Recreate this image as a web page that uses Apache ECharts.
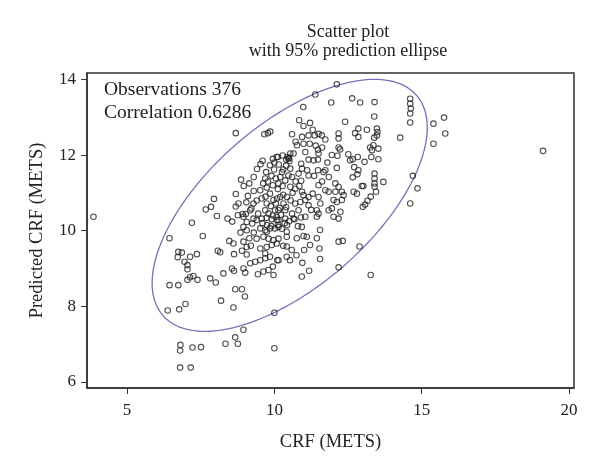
<!DOCTYPE html>
<html>
<head>
<meta charset="utf-8">
<script src="https://cdn.jsdelivr.net/npm/echarts@6/dist/echarts.min.js"></script>
<style>
  html, body { margin: 0; padding: 0; background: #fff; }
  #main { width: 600px; height: 472px; }
</style>
</head>
<body>
<div id="main"></div>
<script>
const points = [
  [3.86,10.37],[8.69,12.58],[9.66,12.55],[9.78,12.58],[9.86,12.62],[9.95,11.90],[10.08,11.95],[9.53,11.76],[9.41,11.63],[9.30,11.42],
  [9.99,11.62],[8.87,11.35],[8.96,11.18],[8.69,10.97],[9.10,10.92],[7.95,10.84],[7.67,10.56],[7.85,10.63],[8.05,10.39],[7.20,10.21],
  [8.41,10.32],[8.57,10.24],[8.76,10.41],[8.92,10.44],[9.03,10.44],[8.69,10.64],[9.29,10.72],[9.22,10.59],[9.25,10.19],[8.95,10.10],
  [12.12,13.87],[11.39,13.60],[10.98,13.27],[11.93,13.39],[12.64,13.50],[12.91,13.39],[13.40,13.40],[14.61,13.49],[14.61,13.36],[14.63,13.23],
  [14.61,13.10],[14.61,12.86],[13.39,13.02],[12.40,12.88],[10.84,12.92],[10.99,12.77],[11.21,12.85],[12.85,12.70],[13.14,12.67],[13.48,12.70],
  [13.50,12.61],[13.48,12.52],[13.39,12.46],[12.74,12.58],[12.85,12.48],[13.25,12.20],[13.36,12.26],[13.53,12.17],[13.31,12.13],[13.53,11.89],
  [13.29,11.95],[14.27,12.46],[12.18,12.57],[12.18,12.44],[12.18,12.20],[12.23,12.15],[12.14,11.98],[12.51,12.02],[12.66,11.89],[12.57,11.86],
  [12.83,11.95],[13.06,11.82],[12.12,11.66],[12.85,11.60],[12.82,11.49],[12.66,11.41],[12.97,11.18],[13.02,11.18],[13.40,11.51],[13.40,11.38],
  [13.40,11.25],[13.40,11.16],[13.70,11.29],[13.45,11.03],[13.27,10.90],[13.16,10.79],[13.00,10.63],[13.08,10.69],[14.70,11.45],[14.86,11.12],
  [14.61,10.72],[15.40,12.83],[15.76,12.99],[15.80,12.57],[15.40,12.30],[19.12,12.11],
  [6.44,9.80],[7.57,9.86],[6.74,9.44],[6.86,9.42],[6.72,9.30],[7.37,9.38],[7.14,9.31],[6.95,9.18],[7.05,9.09],[7.05,8.98],
  [7.25,8.80],[7.14,8.77],[7.05,8.70],[7.39,8.70],[6.44,8.56],[6.74,8.56],[6.38,7.89],[6.77,7.92],[6.98,8.06],[6.81,6.98],
  [6.80,6.83],[7.22,6.91],[7.51,6.92],[6.80,6.38],[7.16,6.38],[8.08,9.47],[8.16,9.43],[8.47,9.73],[8.61,9.66],[8.63,9.38],
  [8.90,9.47],[9.06,9.37],[8.95,9.71],[9.15,9.80],[7.82,8.74],[8.01,8.63],[8.27,8.87],[8.56,9.00],[8.63,8.94],[8.95,9.00],
  [9.01,8.89],[8.67,8.45],[8.90,8.45],[9.00,8.26],[8.19,8.15],[8.61,7.97],[8.95,7.38],[8.67,7.18],[8.76,7.01],[8.34,7.01],
  [10.00,7.83],[10.00,6.89],[9.18,9.14],[9.35,9.18],[9.52,9.22],[9.69,9.27],[9.44,8.85],[9.63,8.92],[9.80,8.96],[9.95,9.05],
  [9.97,8.83],[10.10,9.22],
  [10.93,8.79],[11.18,8.94],[12.18,9.03],[11.55,9.25],[11.53,9.53],[11.21,9.62],[11.01,9.49],[10.76,9.80],[10.99,9.86],[11.10,9.84],
  [11.44,9.80],[11.55,10.02],[12.18,9.71],[12.32,9.73],[12.89,9.58],[13.27,8.83],[10.93,10.10],[10.42,9.97],[10.42,9.84],[10.42,9.58],
  [10.42,9.31],[10.53,9.22],[10.14,9.22],[10.59,9.49],
  [11.30,12.67],[11.50,12.56],[11.37,12.52],[11.61,12.52],[11.73,12.41],[11.16,12.52],[10.94,12.48],[10.99,12.30],[10.77,12.26],[10.54,12.04],
  [10.28,11.99],[10.12,11.95],[10.48,11.90],[10.51,11.84],[10.65,12.04],[10.91,11.77],[11.05,12.08],[11.16,11.88],[11.33,11.86],[11.48,11.88],
  [11.48,12.14],[11.50,12.04],[11.73,11.60],[11.48,11.60],[11.67,11.55],[10.94,11.64],[11.11,11.60],[11.16,11.46],[10.91,11.32],[10.82,11.51],
  [10.54,11.64],[10.48,11.46],[10.26,11.55],[10.37,11.33],[10.14,11.25],[10.54,11.16],[10.71,11.11],[10.94,11.03],[10.99,10.94],[10.88,10.76],
  [11.05,10.81],[11.16,10.89],[11.16,10.67],[10.71,10.72],[10.43,10.89],[10.31,10.72],[10.20,10.89],[10.09,10.85],[10.14,10.54],[10.37,10.54],
  [10.60,10.45],[10.82,10.54],[11.50,11.20],[11.73,11.07],[11.50,10.89],[11.56,10.72],[11.84,11.03],[11.44,10.54],[11.50,10.45],[11.84,10.54],
  [12.07,11.25],[12.07,11.03],[12.18,11.16],[12.29,11.03],[12.35,10.94],[12.01,10.81],[12.12,10.76],[12.29,10.81],[11.95,10.59],[12.24,10.50],
  [12.69,11.03],[12.80,10.98],[12.71,11.68],[10.45,11.95],[10.50,11.92],[10.40,11.88],
  [9.69,11.38],[9.74,11.14],[9.52,11.07],[9.57,10.85],[9.74,10.72],[9.85,10.98],[9.97,10.81],[9.69,10.54],[10.02,10.54],[10.08,10.37],
  [8.78,10.72],[9.18,10.54],[9.85,11.73],
  [8.95,10.37],[9.06,10.23],[9.29,10.32],[9.40,10.28],[9.57,10.32],[9.74,10.34],[9.91,10.30],[10.08,10.28],[9.06,10.01],[9.52,10.06],
  [9.69,10.01],[9.74,9.97],[9.85,10.06],[10.02,10.06],[10.14,10.15],[9.40,9.79],[9.63,9.84],[9.80,9.79],[9.97,9.75],[10.14,9.79],
  [9.06,9.57],[9.52,9.53],[9.74,9.57],[9.91,9.62],[10.08,9.66],[9.69,9.40],[9.85,9.31],
  [10.14,10.28],[10.37,10.32],[10.65,10.32],[10.14,10.10],[10.43,10.15],[11.05,10.37],[11.44,10.37],[12.01,10.37],[12.18,10.32],
  [9.62,11.25],[9.78,11.30],[9.90,11.45],[10.05,11.38],[10.20,11.42],[9.95,11.20],[10.12,11.10],[10.28,11.18],[9.70,10.90],[9.88,10.65],
  [10.05,10.72],[10.18,10.60],[10.30,10.95],[9.80,10.45],[9.95,10.40],[10.22,10.42],[10.35,10.20],[10.50,10.25],[9.60,10.20],[9.75,10.15],
  [9.90,10.12],[10.25,10.05],[10.40,10.62],[10.55,10.80],[10.62,11.00],[10.30,11.62],[10.15,11.75],[10.00,11.80],[9.72,11.55],[9.60,11.85],
  [10.40,11.72],[10.60,11.42],[10.72,11.30],[10.85,11.18],[10.68,10.30],[10.80,10.12],[10.90,10.35],[11.25,10.55],[11.30,10.98],[11.35,11.45],
  [11.62,11.30],[11.85,11.42],[11.80,11.80],[11.95,12.00],[11.20,12.30],[11.40,12.25],[11.62,12.20],[10.72,12.35],[10.60,12.55],[9.30,11.05],
  [9.40,10.80],[9.15,11.25],[9.05,10.75],[9.45,10.45],[8.85,9.95],[9.30,9.95],[9.20,9.60],[10.30,9.60],[10.75,9.35],[10.95,9.15]
];

const xTicks = [5, 10, 15, 20];
const yTicks = [6, 8, 10, 12, 14];

// 95% prediction ellipse: centre and scaled covariance
const ellipseCentre = [10.52, 10.67];
const ellipseCov = { xx: 21.8, xy: 9.6, yy: 11.1 };

function ellipsePath() {
  const a = Math.sqrt(ellipseCov.xx);
  const b = ellipseCov.xy / a;
  const c = Math.sqrt(ellipseCov.yy - b * b);
  const out = [];
  for (let i = 0; i <= 180; i++) {
    const t = (i / 180) * Math.PI * 2;
    out.push([ellipseCentre[0] + a * Math.cos(t), ellipseCentre[1] + b * Math.cos(t) + c * Math.sin(t)]);
  }
  return out;
}

const serif = 'Liberation Serif';
const chart = echarts.init(document.getElementById('main'));
const option = {
  backgroundColor: '#fff',
  animation: false,
  textStyle: { fontFamily: serif, color: '#222' },
  title: {
    text: 'Scatter plot\nwith 95% prediction ellipse',
    left: 343,
    top: 18,
    textAlign: 'center',
    textStyle: { fontFamily: serif, fontSize: 18, fontWeight: 'normal', color: '#222', lineHeight: 19 }
  },
  grid: {
    left: 87, right: 26, top: 73, bottom: 84,
    show: true, borderColor: '#333', borderWidth: 1.5, backgroundColor: '#fff'
  },
  graphic: [
    {
      type: 'text', left: 104, top: 78,
      style: { text: 'Observations 376\nCorrelation 0.6286', font: '19.5px "Liberation Serif"', fill: '#222', lineHeight: 23.5 }
    }
  ],
  xAxis: {
    type: 'value', min: 3.64, max: 20.17,
    name: 'CRF (METS)', nameLocation: 'middle', nameGap: 45,
    nameTextStyle: { fontFamily: serif, fontSize: 18.5, color: '#222' },
    splitLine: { show: false },
    axisLine: { show: true, lineStyle: { color: '#333', width: 1.5 } },
    axisTick: { show: true, length: 6, customValues: xTicks, lineStyle: { color: '#333' } },
    axisLabel: { customValues: xTicks, fontFamily: serif, fontSize: 17, color: '#222', margin: 14 }
  },
  yAxis: {
    type: 'value', min: 5.84, max: 14.17,
    name: 'Predicted CRF (METS)', nameLocation: 'middle', nameGap: 40,
    nameTextStyle: { fontFamily: serif, fontSize: 18.5, color: '#222' },
    splitLine: { show: false },
    axisLine: { show: true, lineStyle: { color: '#333', width: 1.5 } },
    axisTick: { show: true, length: 6, customValues: yTicks, lineStyle: { color: '#333' } },
    axisLabel: { customValues: yTicks, fontFamily: serif, fontSize: 17, color: '#222', margin: 11 }
  },
  series: [
    {
      type: 'scatter',
      data: points,
      symbol: 'circle',
      symbolSize: 5.5,
      itemStyle: { color: 'rgba(0,0,0,0)', borderColor: '#222', borderWidth: 1.1 },
      z: 3
    },
    {
      type: 'line',
      data: ellipsePath(),
      showSymbol: false,
      smooth: false,
      lineStyle: { color: '#7272b8', width: 1.3 },
      z: 2
    }
  ]
};
chart.setOption(option);
</script>
</body>
</html>
